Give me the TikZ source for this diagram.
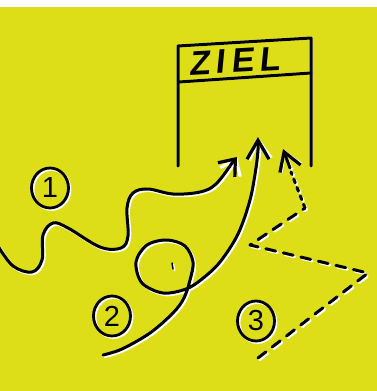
\documentclass[tikz,border=0pt]{standalone}
\usepackage{fontspec}
\setmainfont{Liberation Sans}
\usetikzlibrary{arrows.meta}
\definecolor{bg}{RGB}{221,221,24}
\tikzset{
  ink/.style={line width=3pt, line cap=round, line join=round, draw=black},
  glow/.style={line width=3pt, line cap=round, line join=round, draw=white, shift={(1.6,1.6)}},
  barb/.style={-{Straight Barb[length=#1, width=22pt, line width=3.2pt]}},
  dash3/.style={dash pattern=on 10pt off 8pt},
  dot3/.style={dash pattern=on 4pt off 5pt},
  numcirc/.style={ellipse, line width=2.8pt, draw=black, minimum width=37pt, minimum height=40pt, inner sep=0pt, font=\fontsize{29}{29}\selectfont},
  numglow/.style={ellipse, line width=2.8pt, draw=white, minimum width=37pt, minimum height=40pt, inner sep=0pt},
}
\usetikzlibrary{shapes.geometric}
\begin{document}
\begin{tikzpicture}[x=1pt,y=-1pt]
\fill[white] (0,0) rectangle (377,391);
\fill[bg] (0,7) rectangle (377,391);
\useasboundingbox (0,0) rectangle (377,391);

% coordinates
\coordinate (bTL) at (178,46);
\coordinate (bTR) at (311,38);
\coordinate (bBL) at (178,166);
\coordinate (bBR) at (311,166);
\coordinate (hL) at (179,82);
\coordinate (hR) at (311,73);
\coordinate (t1) at (237,157);
\coordinate (t2) at (258,137);
\coordinate (t3) at (283,149);

% ZIEL box
\foreach \st in {glow,ink}{
  \draw[\st] (bBL) -- (bTL) -- (bTR) -- (bBR);
  \draw[\st] (hL) -- (hR);
}
\node[font=\fontsize{34}{34}\selectfont\bfseries, rotate=3, xslant=0.15] (ziel) at (236,61) {Z\,I\,E\,L};

% path 1: wavy
\foreach \st in {glow,ink}{
  \draw[\st, barb=14pt] plot[smooth, tension=0.6] coordinates {
    (-2,246) (13,266) (32,272) (42,260) (43,235) (53,223) (68,228)
    (100,247) (121,248) (128,236) (127,208) (133,193) (148,189)
    (173,194) (200,192) (216,184) (232,163)} -- (t1);
}

% path 2: loop
\foreach \st in {glow,ink}{
  \draw[\st, barb=19pt] plot[smooth, tension=0.55] coordinates {
    (103,355) (122,349) (150,333) (173,313) (184,298) (190,280)
    (193,262) (185,246) (167,240) (147,245) (136,262) (142,283)
    (163,293) (186,289) (202,279) (220,262) (238,234) (250,200)
    (256,168) (258,150)} -- (t2);
  \draw[\st, line width=1.5pt] (172,263) -- (173,269);
}

% path 3: dashed
\foreach \st in {glow,ink}{
  \draw[\st, dash3] (258,358) -- (368,273) -- (250,245) -- (305,208);
  \draw[\st, dot3] (305,208) -- (291,172);
  \draw[\st, barb=18pt] (290,168) -- (t3);
}

% number circles
\node[numglow] at (51.5,189.5) {};
\node[numglow] at (113.5,317.5) {};
\node[numglow] at (257.5,322.5) {};
\node[numcirc] (n1) at (50,188) {1};
\node[numcirc] (n2) at (112,316) {2};
\node[numcirc] (n3) at (256,321) {3};
\end{tikzpicture}
\end{document}
